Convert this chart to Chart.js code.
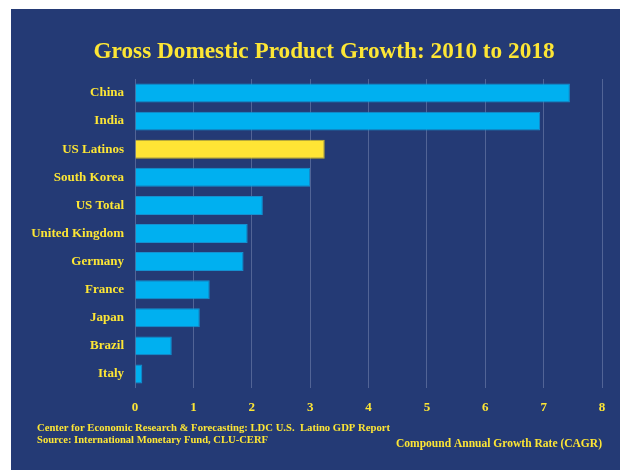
<!DOCTYPE html>
<html>
<head>
<meta charset="utf-8">
<script src="https://cdn.jsdelivr.net/npm/chart.js@4"></script>
<style>
html,body{margin:0;padding:0;background:#fff;}
#wrap{width:620px;height:470px;position:relative;}
</style>
</head>
<body>
<div id="wrap"><canvas id="c" width="620" height="470"></canvas></div>
<script>
const categories = ["China","India","US Latinos","South Korea","US Total","United Kingdom","Germany","France","Japan","Brazil","Italy"];
const cagrValues = [7.45, 6.94, 3.25, 3.0, 2.19, 1.93, 1.86, 1.28, 1.11, 0.63, 0.125];
const xTicks = [0,1,2,3,4,5,6,7,8];
const titleText = "Gross Domestic Product Growth: 2010 to 2018";
const footerLines = ["Center for Economic Research & Forecasting: LDC U.S.  Latino GDP Report","Source: International Monetary Fund, CLU-CERF"];
const axisTitle = "Compound Annual Growth Rate (CAGR)";
const highlight = "US Latinos";

const NAVY = "#243a75";
const YELLOW = "#fde635";
const SERIF = "'Liberation Serif', 'DejaVu Serif', serif";

function fitText(ctx, text, x, y, width, align) {
  const w = ctx.measureText(text).width;
  const s = width / w;
  ctx.save();
  const left = align === 'right' ? x - width : x;
  ctx.translate(left, y);
  ctx.scale(s, 1);
  ctx.textAlign = 'left';
  ctx.fillText(text, 0, 0);
  ctx.restore();
}

const bgPlugin = {
  id: 'bg',
  beforeDraw(chart) {
    const ctx = chart.ctx;
    ctx.save();
    ctx.fillStyle = '#ffffff';
    ctx.fillRect(0,0,chart.width,chart.height);
    ctx.fillStyle = NAVY;
    ctx.fillRect(11,9,chart.width-11,chart.height-9);
    ctx.restore();
  },
  afterDraw(chart) {
    const ctx = chart.ctx;
    ctx.save();
    ctx.fillStyle = YELLOW;
    ctx.textBaseline = 'alphabetic';
    ctx.font = "bold 23px " + SERIF;
    fitText(ctx, titleText, 93.5, 57.5, 461, 'left');
    ctx.font = "bold 10.7px " + SERIF;
    fitText(ctx, footerLines[0], 37, 430.5, 353, 'left');
    fitText(ctx, footerLines[1], 37, 442.5, 231, 'left');
    ctx.font = "bold 13px " + SERIF;
    fitText(ctx, axisTitle, 602, 446.5, 206, 'right');
    ctx.restore();
  }
};

new Chart(document.getElementById('c'), {
  type: 'bar',
  data: {
    labels: categories,
    datasets: [{
      data: cagrValues,
      backgroundColor: categories.map(c => c === highlight ? '#ffe535' : '#00b0f0'),
      borderColor: categories.map(c => c === highlight ? '#c9b52a' : '#1590d0'),
      borderWidth: 1,
      borderSkipped: 'left',
      barPercentage: 0.675,
      categoryPercentage: 1.0
    }]
  },
  options: {
    indexAxis: 'y',
    responsive: false,
    animation: false,
    devicePixelRatio: 1,
    layout: { padding: { top: 79, right: 18, left: 0, bottom: 0 } },
    plugins: { legend: { display: false }, tooltip: { enabled: false }, title: { display: false } },
    scales: {
      x: {
        min: 0, max: 8,
        afterBuildTicks(scale) { scale.ticks = xTicks.map(v => ({ value: v })); },
        afterFit(scale) { scale.height = 82; },
        grid: { color: 'rgba(190,200,230,0.3)', lineWidth: 1, drawTicks: false },
        border: { display: false },
        ticks: { color: YELLOW, font: { family: SERIF, size: 13, weight: 'bold' }, padding: 12 }
      },
      y: {
        afterFit(scale) { scale.width = 135; },
        grid: { display: false, drawTicks: false },
        border: { display: false },
        ticks: { color: YELLOW, font: { family: SERIF, size: 13, weight: 'bold' }, padding: 11 }
      }
    }
  },
  plugins: [bgPlugin]
});
</script>
</body>
</html>
